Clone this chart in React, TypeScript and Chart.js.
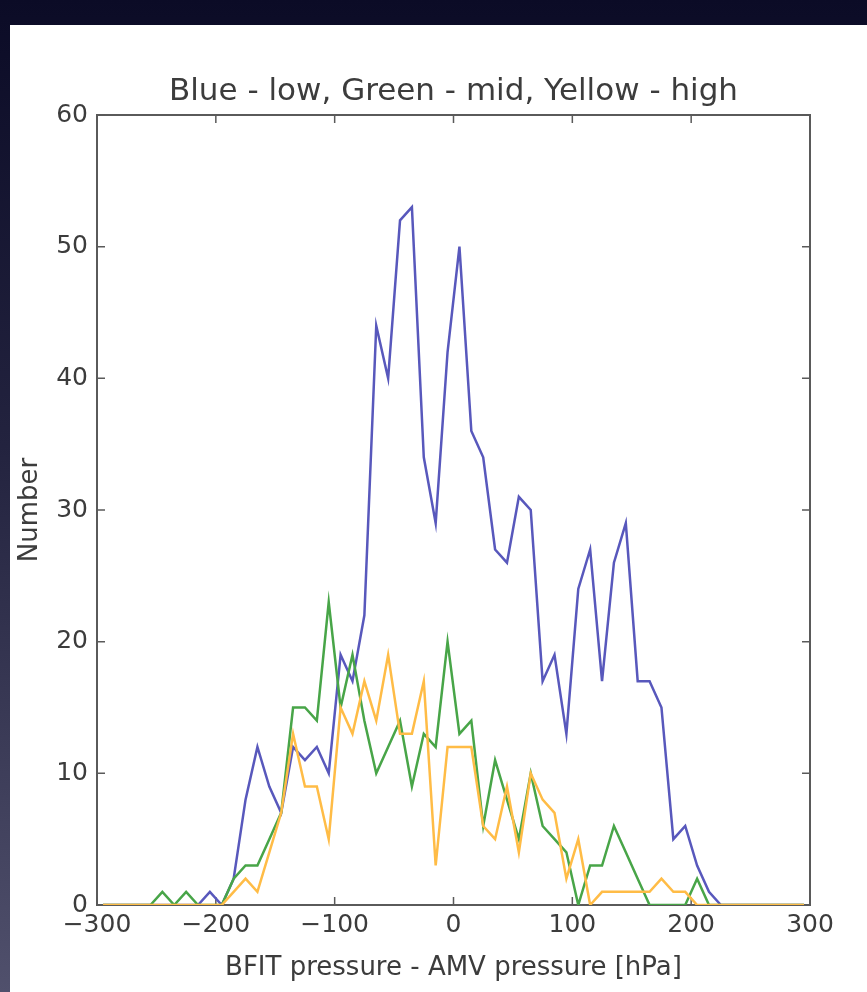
import React, { useEffect, useRef } from "react";
import { Chart, registerables } from "chart.js";

Chart.register(...registerables);

// Bin centres (hPa)
const binCenters = [
  -295, -285, -275, -265, -255, -245, -235, -225, -215, -205,
  -195, -185, -175, -165, -155, -145, -135, -125, -115, -105,
  -95, -85, -75, -65, -55, -45, -35, -25, -15, -5,
  5, 15, 25, 35, 45, 55, 65, 75, 85, 95,
  105, 115, 125, 135, 145, 155, 165, 175, 185, 195,
  205, 215, 225, 235, 245, 255, 265, 275, 285, 295,
];

// Blue - low
const lowCounts = [
  0, 0, 0, 0, 0, 0, 0, 0, 0, 1,
  0, 2, 8, 12, 9, 7, 12, 11, 12, 10,
  19, 17, 22, 44, 40, 52, 53, 34, 29, 42,
  50, 36, 34, 27, 26, 31, 30, 17, 19, 13,
  24, 27, 17, 26, 29, 17, 17, 15, 5, 6,
  3, 1, 0, 0, 0, 0, 0, 0, 0, 0,
];

// Green - mid
const midCounts = [
  0, 0, 0, 0, 0, 1, 0, 1, 0, 0,
  0, 2, 3, 3, 5, 7, 15, 15, 14, 23,
  15, 19, 14, 10, 12, 14, 9, 13, 12, 20,
  13, 14, 6, 11, 8, 5, 10, 6, 5, 4,
  0, 3, 3, 6, 4, 2, 0, 0, 0, 0,
  2, 0, 0, 0, 0, 0, 0, 0, 0, 0,
];

// Yellow - high
const highCounts = [
  0, 0, 0, 0, 0, 0, 0, 0, 0, 0,
  0, 1, 2, 1, 4, 7, 13, 9, 9, 5,
  15, 13, 17, 14, 19, 13, 13, 17, 3, 12,
  12, 12, 6, 5, 9, 4, 10, 8, 7, 2,
  5, 0, 1, 1, 1, 1, 1, 2, 1, 1,
  0, 0, 0, 0, 0, 0, 0, 0, 0, 0,
];

const xTicks = [-300, -200, -100, 0, 100, 200, 300];
const yTicks = [0, 10, 20, 30, 40, 50, 60];

const titleText = "Blue - low, Green - mid, Yellow - high";
const xLabel = "BFIT pressure - AMV pressure [hPa]";
const yLabel = "Number";

const W = 867;
const H = 992;
const FONT = "'DejaVu Sans', sans-serif";
const TEXT = "#3c3c3c";

const toPoints = (vals: number[]) =>
  binCenters.map((x, i) => ({ x, y: vals[i] }));

const framePlugin = {
  id: "frame",
  beforeDatasetsDraw(chart: any) {
    const { ctx, chartArea: a, scales } = chart;
    const xs = scales.x;
    const ys = scales.y;
    ctx.save();
    ctx.strokeStyle = "#5a5a5a";
    ctx.lineWidth = 2;
    ctx.strokeRect(a.left, a.top, a.right - a.left, a.bottom - a.top);
    const L = 8;
    ctx.lineWidth = 1.5;
    ctx.beginPath();
    xTicks.forEach((v) => {
      const px = xs.getPixelForValue(v);
      ctx.moveTo(px, a.bottom);
      ctx.lineTo(px, a.bottom - L);
      ctx.moveTo(px, a.top);
      ctx.lineTo(px, a.top + L);
    });
    yTicks.forEach((v) => {
      const py = ys.getPixelForValue(v);
      ctx.moveTo(a.left, py);
      ctx.lineTo(a.left + L, py);
      ctx.moveTo(a.right, py);
      ctx.lineTo(a.right - L, py);
    });
    ctx.stroke();
    ctx.restore();
  },
};

export default function App() {
  const ref = useRef<HTMLCanvasElement>(null);

  useEffect(() => {
    if (!ref.current) return;
    const chart = new Chart(ref.current, {
      type: "line",
      data: {
        datasets: [
          {
            label: "high",
            data: toPoints(highCounts),
            borderColor: "rgb(255,188,70)",
            borderWidth: 2.5,
            pointRadius: 0,
            tension: 0,
            order: 0,
          },
          {
            label: "mid",
            data: toPoints(midCounts),
            borderColor: "rgb(72,165,72)",
            borderWidth: 2.5,
            pointRadius: 0,
            tension: 0,
            order: 1,
          },
          {
            label: "low",
            data: toPoints(lowCounts),
            borderColor: "rgb(88,88,188)",
            borderWidth: 2.5,
            pointRadius: 0,
            tension: 0,
            order: 2,
          },
        ],
      },
      options: {
        responsive: false,
        animation: false,
        events: [],
        layout: { padding: { top: 76, left: 10, right: 57, bottom: 0 } },
        plugins: {
          legend: { display: false },
          tooltip: { enabled: false },
          title: {
            display: true,
            text: titleText,
            fullSize: false,
            color: TEXT,
            font: { family: FONT, size: 31, weight: "normal", lineHeight: 1 },
            padding: { top: 0, bottom: 8 },
          },
        },
        scales: {
          x: {
            type: "linear",
            min: -300,
            max: 300,
            afterFit: (s: any) => {
              s.height = 87;
            },
            afterBuildTicks: (s: any) => {
              s.ticks = xTicks.map((v) => ({ value: v }));
            },
            grid: { display: false, drawTicks: false },
            border: { display: false },
            ticks: {
              color: TEXT,
              padding: 8,
              maxRotation: 0,
              font: { family: FONT, size: 25, lineHeight: 1 },
              callback: (v: any) =>
                Number(v) < 0 ? "\u2212" + Math.abs(Number(v)) : String(v),
            },
            title: {
              display: true,
              text: xLabel,
              color: TEXT,
              font: { family: FONT, size: 26, lineHeight: 1 },
              padding: { top: 0, bottom: 11 },
            },
          },
          y: {
            type: "linear",
            min: 0,
            max: 60,
            afterFit: (s: any) => {
              s.width = 87;
            },
            afterBuildTicks: (s: any) => {
              s.ticks = yTicks.map((v) => ({ value: v }));
            },
            grid: { display: false, drawTicks: false },
            border: { display: false },
            ticks: {
              color: TEXT,
              padding: 9,
              font: { family: FONT, size: 25, lineHeight: 1 },
            },
            title: {
              display: true,
              text: yLabel,
              color: TEXT,
              font: { family: FONT, size: 26, lineHeight: 1 },
              padding: { top: 7, bottom: 0 },
            },
          },
        },
      },
      plugins: [framePlugin],
    });
    return () => chart.destroy();
  }, []);

  return (
    <div
      style={{
        position: "fixed",
        left: 0,
        top: 0,
        width: W,
        height: H,
        overflow: "hidden",
        background: "linear-gradient(to bottom, #0b0b26 0%, #23233f 45%, #50506c 100%)",
      }}
    >
      <div
        style={{
          position: "absolute",
          left: 10,
          top: 25,
          right: 0,
          bottom: 0,
          background: "#ffffff",
        }}
      />
      <canvas
        ref={ref}
        width={W}
        height={H}
        style={{ position: "absolute", left: 0, top: 0, width: W, height: H }}
      />
    </div>
  );
}
